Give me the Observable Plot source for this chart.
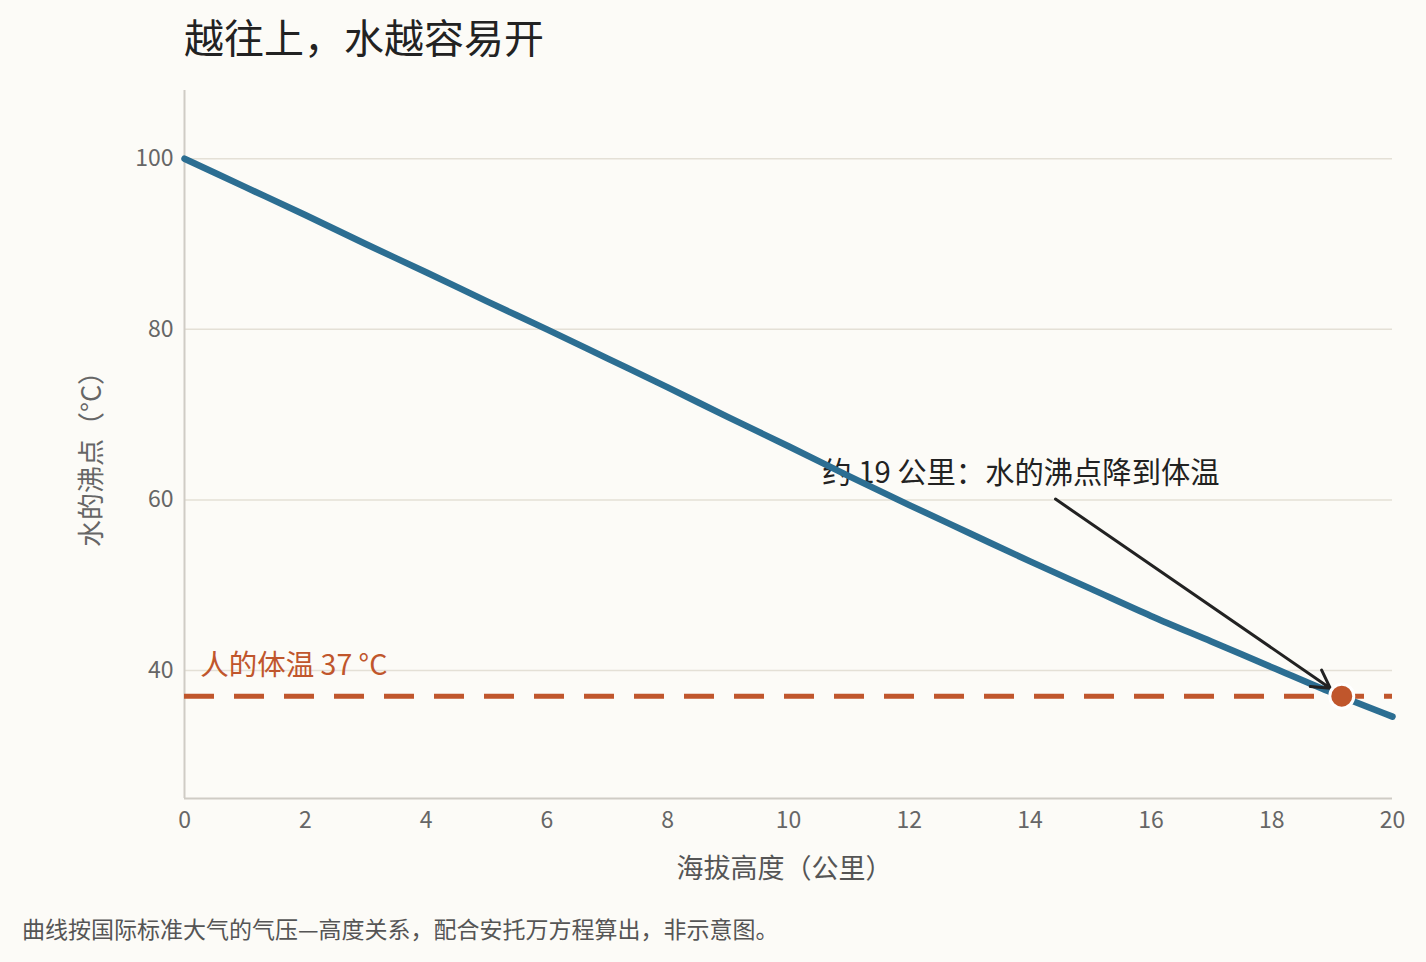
<!DOCTYPE html>
<html>
<head>
<meta charset="utf-8">
<script src="https://cdn.jsdelivr.net/npm/d3@7"></script>
<script src="https://cdn.jsdelivr.net/npm/@observablehq/plot@0.6"></script>
<style>
  html, body { margin: 0; padding: 0; background: #fcfbf7; }
  body { width: 1426px; height: 962px; overflow: hidden; font-family: "Noto Sans CJK SC", "Noto Sans", sans-serif; }
  #title { height: 78px; line-height: 72px; padding-left: 184px; font-size: 40px; color: #222; }
  #caption { height: 64px; line-height: 60px; padding-left: 22px; font-size: 23px; color: #555; }
  #chart svg { display: block; }
</style>
</head>
<body>
<div id="title">越往上，水越容易开</div>
<div id="chart"></div>
<div id="caption">曲线按国际标准大气的气压—高度关系，配合安托万方程算出，非示意图。</div>
<script>
// Data
const altitudeKm = [0, 1, 2, 3, 4, 5, 6, 7, 8, 9, 10, 11, 12, 13, 14, 15, 16, 17, 18, 19, 20];
const boilingC   = [100.0, 96.7, 93.4, 90.0, 86.7, 83.3, 80.0, 76.6, 73.2, 69.7, 66.3, 62.8, 59.4, 56.1, 52.8, 49.6, 46.4, 43.4, 40.4, 37.4, 34.6];
const bodyTempC = 37;
const crossingKm = 19.16;
const xTicks = [0, 2, 4, 6, 8, 10, 12, 14, 16, 18, 20];
const yTicks = [40, 60, 80, 100];
const xDomain = [0, 20];
const yDomain = [25, 108];
const calloutText = "约 19 公里：水的沸点降到体温";
const calloutTextAt = [10.56, 63.05];
const calloutArrowFrom = [14.42, 60.1];
const bodyLabel = "人的体温 37 °C";
const bodyLabelAt = [0.26, 40.6];
const xLabel = "海拔高度（公里）";
const yLabel = "水的沸点（°C）";

const series = altitudeKm.map((k, i) => ({km: k, c: boilingC[i]}));
const crossing = [{km: crossingKm, c: bodyTempC}];

const blue = "#2c6e92";
const orange = "#c0562c";
const font = "Noto Sans CJK SC";

const chart = Plot.plot({
  width: 1426,
  height: 820,
  marginLeft: 184,
  marginRight: 34,
  marginTop: 12,
  marginBottom: 100,
  style: {background: "transparent", fontFamily: font},
  x: {domain: xDomain},
  y: {domain: yDomain},
  marks: [
    Plot.gridY(yTicks, {stroke: "#e4e0d6", strokeOpacity: 1, strokeWidth: 1.5}),
    Plot.ruleX([xDomain[0]], {stroke: "#cfccc5", strokeWidth: 2}),
    Plot.ruleY([yDomain[0]], {stroke: "#cfccc5", strokeWidth: 2}),
    Plot.axisX(xTicks, {tickSize: 0, tickPadding: 13, fontSize: 23, fill: "#666", label: null}),
    Plot.axisY(yTicks, {tickSize: 0, tickPadding: 11, fontSize: 23, fill: "#666", label: null}),
    Plot.text([xLabel], {frameAnchor: "bottom", lineAnchor: "middle", textAnchor: "middle", dx: -4, dy: 71, fontSize: 27, fill: "#555"}),
    Plot.text([yLabel], {frameAnchor: "left", textAnchor: "middle", lineAnchor: "middle", dx: -92, dy: 8, rotate: -90, fontSize: 27, fill: "#666"}),
    Plot.text([calloutText], {x: () => calloutTextAt[0], y: () => calloutTextAt[1], textAnchor: "start", fontSize: 29.3, fill: "#222"}),
    Plot.text([bodyLabel], {x: () => bodyLabelAt[0], y: () => bodyLabelAt[1], textAnchor: "start", fontSize: 28.5, fill: orange}),
    Plot.ruleY([bodyTempC], {stroke: orange, strokeWidth: 5, strokeDasharray: "30,20"}),
    Plot.line(series, {x: "km", y: "c", stroke: blue, strokeWidth: 6.5, curve: "monotone-x"}),
    Plot.arrow(crossing, {
      x1: () => calloutArrowFrom[0], y1: () => calloutArrowFrom[1],
      x2: "km", y2: "c",
      stroke: "#222", strokeWidth: 3, headLength: 10, insetEnd: 14
    }),
    Plot.dot(crossing, {x: "km", y: "c", r: 12, fill: orange, stroke: "#fff", strokeWidth: 3})
  ]
});
document.getElementById("chart").appendChild(chart);
</script>
</body>
</html>
